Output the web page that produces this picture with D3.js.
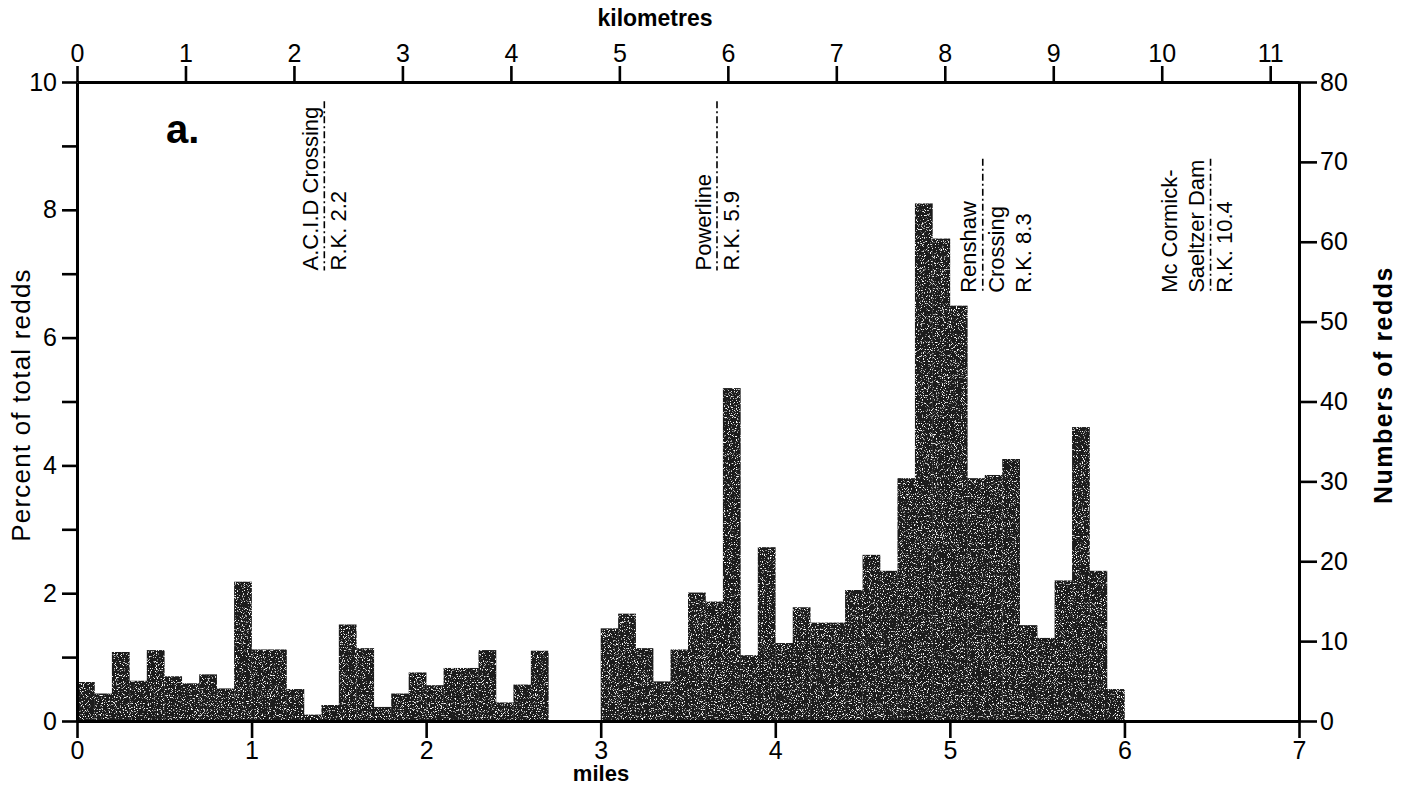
<!DOCTYPE html>
<html>
<head>
<meta charset="utf-8">
<script src="https://cdn.jsdelivr.net/npm/d3@7"></script>
<style>
  body { margin: 0; background: #fff; }
  svg { display: block; }
  text { font-family: "Liberation Sans", Arial, sans-serif; fill: #000; }
</style>
</head>
<body>
<div id="chart"></div>
<script>
// percent of total redds per 0.1-mile reach
var binWidth = 0.1;
var binStart = d3.range(0, 60).map(function(i) { return +(i * binWidth).toFixed(1); });
var pctRedds = [
  0.61, 0.43, 1.08, 0.63, 1.11, 0.70, 0.59, 0.73, 0.51, 2.18,
  1.12, 1.12, 0.50, 0.10, 0.25, 1.51, 1.14, 0.22, 0.43, 0.76,
  0.56, 0.83, 0.83, 1.11, 0.29, 0.57, 1.10, 0, 0, 0,
  1.45, 1.68, 1.14, 0.62, 1.12, 2.01, 1.87, 5.21, 1.03, 2.72,
  1.22, 1.78, 1.54, 1.54, 2.05, 2.60, 2.35, 3.80, 8.10, 7.55,
  6.50, 3.80, 3.85, 4.10, 1.50, 1.30, 2.20, 4.60, 2.35, 0.50
];

var mileTicks = [0, 1, 2, 3, 4, 5, 6, 7];
var kmTicks = [0, 1, 2, 3, 4, 5, 6, 7, 8, 9, 10, 11];
var pctTicks = [0, 1, 2, 3, 4, 5, 6, 7, 8, 9, 10];
var reddTicks = [0, 10, 20, 30, 40, 50, 60, 70, 80];

// river-kilometre landmarks
var markKm = [2.28, 5.9, 8.35, 10.45];
var markLeft = [["A.C.I.D Crossing"], ["Powerline"], ["Renshaw"], ["Mc Cormick-", "Saeltzer Dam"]];
var markRight = [["R.K. 2.2"], ["R.K. 5.9"], ["Crossing", "R.K. 8.3"], ["R.K. 10.4"]];
var markTop = [9.7, 9.7, 8.8, 8.8];
var markBase = [7.05, 7.05, 6.7, 6.7];

var svgWidth = 1404, svgHeight = 785;
var svg = d3.select("#chart").append("svg")
  .attr("width", svgWidth)
  .attr("height", svgHeight);

var defs = svg.append("defs");
var grain = defs.append("filter").attr("id", "grain")
  .attr("filterUnits", "userSpaceOnUse")
  .attr("x", 0).attr("y", 0).attr("width", svgWidth).attr("height", svgHeight);
grain.append("feTurbulence").attr("type", "fractalNoise")
  .attr("baseFrequency", 0.85).attr("numOctaves", 2).attr("seed", 7).attr("result", "noise");
grain.append("feColorMatrix").attr("in", "noise").attr("type", "matrix")
  .attr("values", "0 0 0 0 1  0 0 0 0 1  0 0 0 0 1  7 0 0 0 -4.1").attr("result", "specks");
grain.append("feComposite").attr("in", "specks").attr("in2", "SourceGraphic")
  .attr("operator", "in").attr("result", "clipped");
var merge = grain.append("feMerge");
merge.append("feMergeNode").attr("in", "SourceGraphic");
merge.append("feMergeNode").attr("in", "clipped");

var x = d3.scaleLinear().domain([0, 7]).range([77, 1299]);
var xKm = d3.scaleLinear().domain([0, 7 * 1.609344]).range([77, 1299]);
var y = d3.scaleLinear().domain([0, 10]).range([721, 82]);
var yR = d3.scaleLinear().domain([0, 80]).range([721, 82]);

// bars
svg.append("g").attr("filter", "url(#grain)")
  .selectAll("rect")
  .data(pctRedds)
  .join("rect")
  .attr("x", function(d, i) { return x(binStart[i]); })
  .attr("width", function(d, i) { return x(binStart[i] + binWidth) - x(binStart[i]) + 0.3; })
  .attr("y", function(d) { return y(d); })
  .attr("height", function(d) { return y(0) - y(d); })
  .attr("fill", "#1c1c1c");

function styleAxis(g, size) {
  g.select(".domain").attr("stroke", "#000").attr("stroke-width", 3);
  g.selectAll(".tick line").attr("stroke", "#000").attr("stroke-width", 2.6);
  g.selectAll(".tick text").style("font-size", size + "px").attr("fill", "#000");
}

svg.append("g")
  .attr("transform", "translate(0," + y(0) + ")")
  .call(d3.axisBottom(x).tickValues(mileTicks).tickSize(17).tickSizeOuter(0).tickPadding(3)
    .tickFormat(d3.format("d")))
  .call(styleAxis, 25);

svg.append("g")
  .attr("transform", "translate(0," + y(10) + ")")
  .call(d3.axisTop(xKm).tickValues(kmTicks).tickSize(16).tickSizeOuter(0).tickPadding(4)
    .tickFormat(d3.format("d")))
  .call(styleAxis, 25);

svg.append("g")
  .attr("transform", "translate(" + x(0) + ",0)")
  .call(d3.axisLeft(y).tickValues(pctTicks).tickSize(15).tickSizeOuter(0).tickPadding(5)
    .tickFormat(function(d) { return d % 2 === 0 ? d : ""; }))
  .call(styleAxis, 25);

svg.append("g")
  .attr("transform", "translate(" + x(7) + ",0)")
  .call(d3.axisRight(yR).tickValues(reddTicks).tickSize(18).tickSizeOuter(0).tickPadding(3))
  .call(styleAxis, 25);

// axis titles
svg.append("text").attr("x", 655).attr("y", 26).attr("text-anchor", "middle")
  .style("font-size", "23px").style("font-weight", "bold").text("kilometres");
svg.append("text").attr("x", 601).attr("y", 781).attr("text-anchor", "middle")
  .style("font-size", "22px").style("font-weight", "bold").text("miles");
svg.append("text").attr("transform", "translate(21,405) rotate(-90)")
  .attr("text-anchor", "middle").attr("dy", "0.35em")
  .style("font-size", "26px").style("letter-spacing", "1.2px").text("Percent of total redds");
svg.append("text").attr("transform", "translate(1383,385) rotate(-90)")
  .attr("text-anchor", "middle").attr("dy", "0.35em")
  .style("font-size", "25px").style("font-weight", "bold").style("letter-spacing", "1.5px")
  .text("Numbers of redds");

svg.append("text").attr("x", 166).attr("y", 143)
  .style("font-size", "40px").style("font-weight", "bold").text("a.");

// landmark lines with rotated labels
var colGap = 27;
markKm.forEach(function(km, i) {
  var lx = xKm(km);
  svg.append("line")
    .attr("x1", lx).attr("x2", lx)
    .attr("y1", y(markTop[i])).attr("y2", y(markBase[i]))
    .attr("stroke", "#000").attr("stroke-width", 1.6)
    .attr("stroke-dasharray", "7,3,2,3");
  var left = markLeft[i].slice().reverse();
  left.forEach(function(t, j) {
    svg.append("text")
      .attr("transform", "translate(" + (lx - 14 - j * colGap) + "," + y(markBase[i]) + ") rotate(-90)")
      .attr("dy", "0.35em").style("font-size", "22px").text(t);
  });
  markRight[i].forEach(function(t, j) {
    svg.append("text")
      .attr("transform", "translate(" + (lx + 14 + j * colGap) + "," + y(markBase[i]) + ") rotate(-90)")
      .attr("dy", "0.35em").style("font-size", "22px").text(t);
  });
});
</script>
</body>
</html>
